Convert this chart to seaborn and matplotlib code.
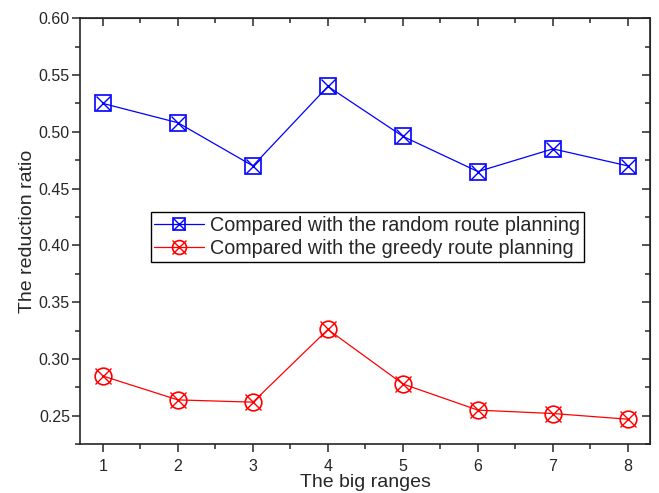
import matplotlib
matplotlib.use('Agg')
import matplotlib.pyplot as plt
from matplotlib.lines import Line2D
from matplotlib.legend_handler import HandlerTuple
from matplotlib.ticker import MultipleLocator, FormatStrFormatter
import seaborn as sns
import pandas as pd

# data
ranges = [1, 2, 3, 4, 5, 6, 7, 8]
random_ratio = [0.525, 0.508, 0.470, 0.540, 0.496, 0.465, 0.485, 0.470]
greedy_ratio = [0.285, 0.264, 0.262, 0.326, 0.278, 0.255, 0.252, 0.247]
labels = ['Compared with the random route planning',
          'Compared with the greedy route planning']

df = pd.DataFrame({'range': ranges, 'random': random_ratio, 'greedy': greedy_ratio})

sns.set_style('ticks')
plt.rcParams['font.family'] = ['Liberation Sans', 'DejaVu Sans']

fig, ax = plt.subplots(figsize=(6.59, 4.93), dpi=100)
fig.subplots_adjust(left=0.122, right=0.987, top=0.963, bottom=0.099)

ms = 11
# blue: boxed X
sns.lineplot(data=df, x='range', y='random', color='blue', lw=0.9, marker='s',
             markersize=ms, markerfacecolor='none', markeredgecolor='blue',
             markeredgewidth=1.2, ax=ax)
ax.plot(df['range'], df['random'], ls='none', marker='x', color='blue',
        markersize=ms * 0.9, markeredgewidth=1.0)
# red: circled X
sns.lineplot(data=df, x='range', y='greedy', color='red', lw=0.9, marker='o',
             markersize=ms + 1, markerfacecolor='none', markeredgecolor='red',
             markeredgewidth=1.2, ax=ax)
ax.plot(df['range'], df['greedy'], ls='none', marker='x', color='red',
        markersize=ms * 1.05, markeredgewidth=1.0)

ax.set_xlim(0.7, 8.3)
ax.set_ylim(0.225, 0.60)
ax.xaxis.set_major_locator(MultipleLocator(1))
ax.xaxis.set_minor_locator(MultipleLocator(0.5))
ax.yaxis.set_major_locator(MultipleLocator(0.05))
ax.yaxis.set_minor_locator(MultipleLocator(0.025))
ax.yaxis.set_major_formatter(FormatStrFormatter('%.2f'))

for side in ['left', 'right', 'top', 'bottom']:
    ax.spines[side].set_visible(True)
    ax.spines[side].set_linewidth(1.2)
ax.tick_params(which='both', direction='out', width=1.1, labelsize=11.5)
ax.tick_params(which='major', length=6)
ax.tick_params(which='minor', length=3.5)
ax.tick_params(axis='y', which='major', pad=1.5)
ax.tick_params(axis='x', which='major', pad=5)
# mirrored axes: top and right ticks point inward
secx = ax.secondary_xaxis('top')
secx.xaxis.set_major_locator(MultipleLocator(1))
secx.xaxis.set_minor_locator(MultipleLocator(0.5))
secx.tick_params(which='both', direction='in', width=1.1, labeltop=False)
secx.tick_params(which='major', length=6)
secx.tick_params(which='minor', length=3.5)
secy = ax.secondary_yaxis('right')
secy.yaxis.set_major_locator(MultipleLocator(0.05))
secy.yaxis.set_minor_locator(MultipleLocator(0.025))
secy.tick_params(which='both', direction='in', width=1.1, labelright=False)
secy.tick_params(which='major', length=6)
secy.tick_params(which='minor', length=3.5)

ax.set_xlabel('The big ranges', fontsize=14, labelpad=0)
ax.set_ylabel('The reduction ratio', fontsize=14, labelpad=2)

lms = 9
h1 = (Line2D([], [], color='blue', lw=0.9, marker='s', markersize=lms,
             markerfacecolor='none', markeredgewidth=1.2),
      Line2D([], [], color='blue', lw=0, marker='x', markersize=lms * 0.9))
h2 = (Line2D([], [], color='red', lw=0.9, marker='o', markersize=lms + 1,
             markerfacecolor='none', markeredgewidth=1.2),
      Line2D([], [], color='red', lw=0, marker='x', markersize=lms * 1.05))
ax.legend([h1, h2], labels, handler_map={tuple: HandlerTuple(ndivide=1, pad=0)},
          loc='upper left', bbox_to_anchor=(0.123, 0.545), fontsize=14.2,
          frameon=True, fancybox=False, edgecolor='black', framealpha=1,
          borderpad=0.2, labelspacing=0.2, handlelength=2.5, handletextpad=0.3,
          borderaxespad=0)
ax.get_legend().get_frame().set_linewidth(1.0)

fig.savefig('out.png', dpi=100)
